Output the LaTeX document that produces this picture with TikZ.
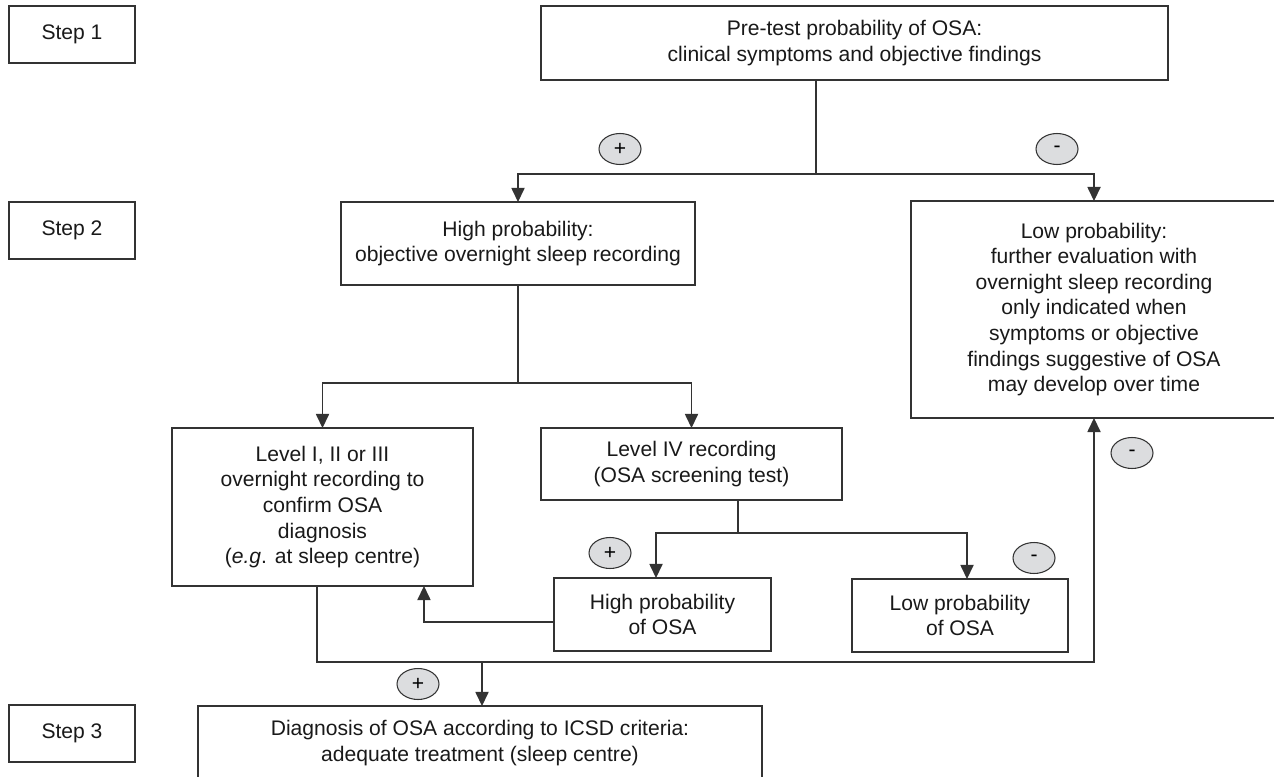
\documentclass[tikz,border=0pt]{standalone}
\usepackage{fontspec}
\setmainfont{Liberation Sans}
\usetikzlibrary{shapes,arrows.meta}
\definecolor{linegray}{HTML}{333333}
\definecolor{signfill}{HTML}{DCDDDF}
\tikzset{
	box/.style={draw=linegray, line width=0.7pt, align=center, inner sep=0pt, outer sep=0pt, text=black!90, font=\fontsize{12}{14.6}\selectfont},
	stepbox/.style={box, minimum width=2.52cm, minimum height=1.14cm},
	sign/.style={ellipse, draw=linegray, line width=0.6pt, fill=signfill, minimum width=0.84cm, minimum height=0.62cm, inner sep=0pt, font=\fontsize{12}{12}\selectfont},
	link/.style={draw=linegray, line width=0.7pt},
	arrow/.style={link, -{Triangle[length=8pt,width=7.5pt]}}
}
\begin{document}
\begin{tikzpicture}[x=0.02cm, y=-0.02cm]
					\useasboundingbox (0,0) rectangle (1274,777);
					\clip (0,0) rectangle (1274,777);
					\node[stepbox] (step1) at (72,34.5) {Step 1};
					\node[stepbox] (step2) at (72,230.5) {Step 2};
					\node[stepbox] (step3) at (72,733.5) {Step 3};
					\node[box, minimum width=12.54cm, minimum height=1.48cm] (pretest) at (854.5,43) {Pre-test probability of OSA:\\clinical symptoms and objective findings};
					\node[box, minimum width=7.08cm, minimum height=1.66cm] (highprob) at (518,243.5) {High probability:\\objective overnight sleep recording};
					\node[box, minimum width=7.32cm, minimum height=4.34cm] (lowprob) at (1094,309.5) {Low probability:\\further evaluation with\\overnight sleep recording\\only indicated when\\symptoms or objective\\findings suggestive of OSA\\may develop over time};
					\node[box, minimum width=6.02cm, minimum height=3.16cm] (levelone) at (322.5,507) {Level I, II or III\\overnight recording to\\confirm OSA\\diagnosis\\(\textit{e.g}. at sleep centre)};
					\node[box, minimum width=6.02cm, minimum height=1.44cm] (levelfour) at (691.5,464) {Level IV recording\\(OSA screening test)};
					\node[box, minimum width=4.34cm, minimum height=1.46cm] (highosa) at (662.5,614.5) {High probability\\of OSA};
					\node[box, minimum width=4.32cm, minimum height=1.46cm] (lowosa) at (960,615.5) {Low probability\\of OSA};
					\node[box, minimum width=11.28cm, minimum height=1.48cm] (diagnosis) at (480,743) {Diagnosis of OSA according to ICSD criteria:\\adequate treatment (sleep centre)};
					\node[sign] (plustop) at (620,149) {+};
					\node[sign] (minustop) at (1057,149) {-};
					\node[sign] (plusmid) at (610,553) {+};
					\node[sign] (minusmid) at (1034,558) {-};
					\node[sign] (minusright) at (1132,453) {-};
					\node[sign] (plusbottom) at (418,684) {+};
					\coordinate (split1) at (816,174);
					\coordinate (split2) at (518,383);
					\coordinate (split3) at (738,533);
					\coordinate (join) at (482,662);
					\coordinate (joinright) at (1094,662);
					\draw[link] (pretest.south -| split1) -- (split1);
					\draw[arrow] (split1) -| (highprob.north);
					\draw[arrow] (split1) -| (lowprob.north);
					\draw[link] (highprob.south) -- (split2);
					\draw[arrow] (split2) -| (levelone.north);
					\draw[arrow] (split2) -| (levelfour.north);
					\draw[link] (levelfour.south -| split3) -- (split3);
					\draw[arrow] (split3) -| ([xshift=-0.13cm]highosa.north);
					\draw[arrow] (split3) -| ([xshift=0.14cm]lowosa.north);
					\draw[arrow] ([yshift=-0.15cm]highosa.west) -| ([xshift=2.03cm]levelone.south);
					\draw[arrow] ([xshift=-0.11cm]levelone.south) |- (joinright) -- (lowprob.south);
					\draw[arrow] (join) -- (join |- diagnosis.north);
				\end{tikzpicture}
\end{document}
